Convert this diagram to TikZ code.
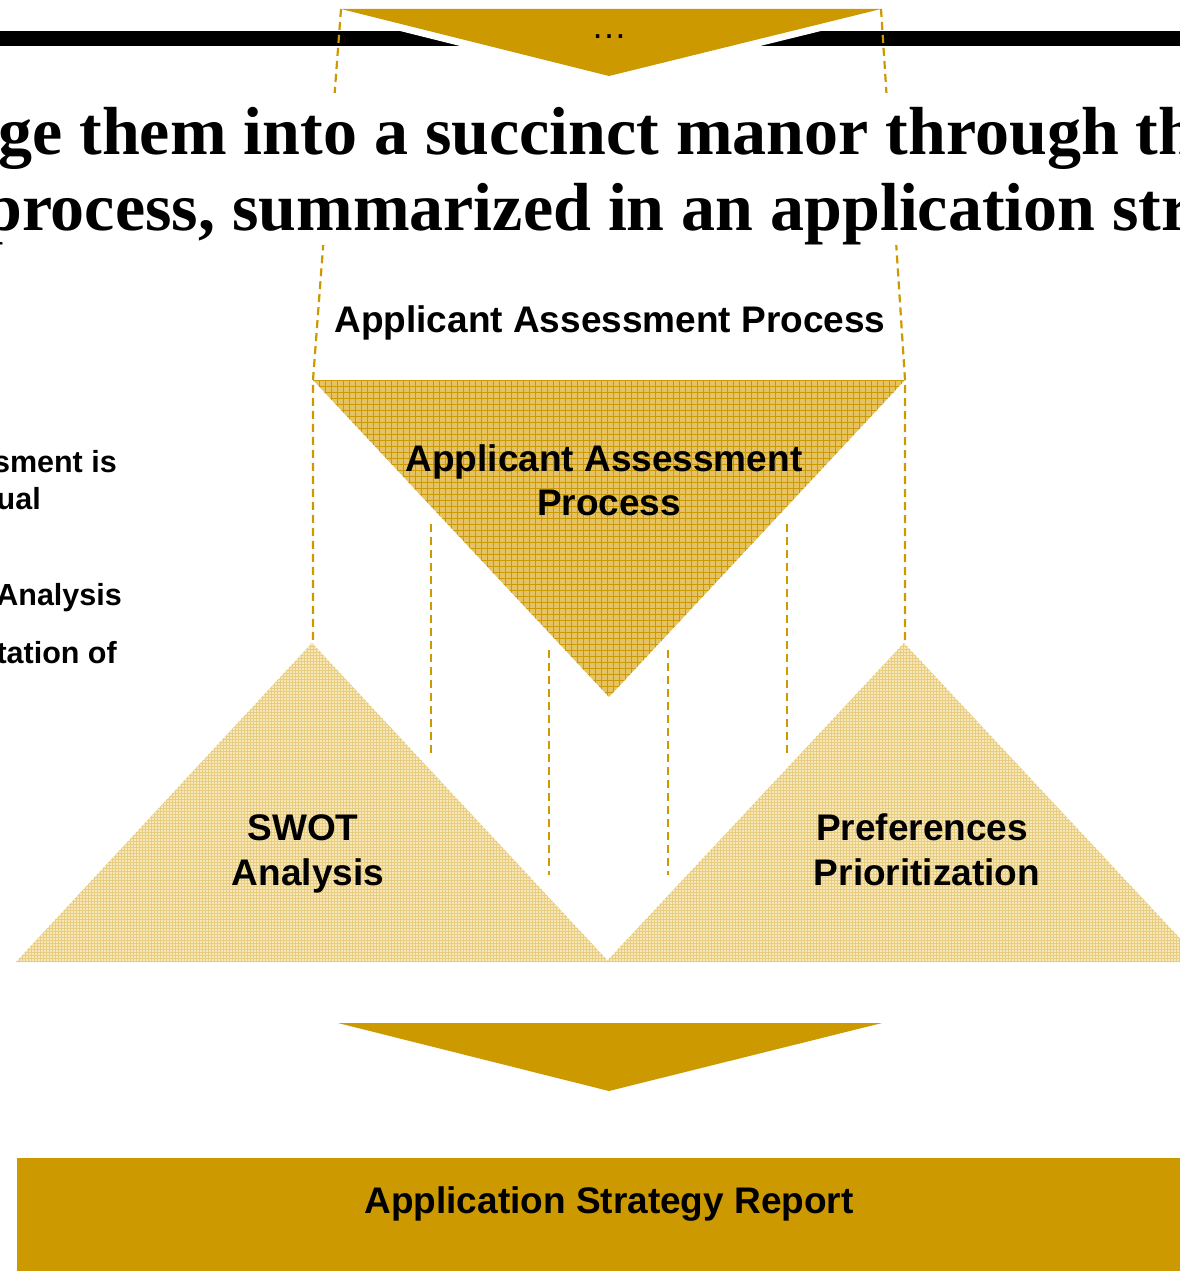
\documentclass[tikz,border=0pt]{standalone}
\usepackage{fontspec}
\setmainfont{Liberation Serif}
\newfontfamily\arialf{Liberation Sans}
\definecolor{gold}{RGB}{204,153,0}
\definecolor{midgold}{RGB}{228,194,104}
\definecolor{lightgold}{RGB}{246,232,186}
\definecolor{lightgrid}{RGB}{232,204,128}
\begin{document}
\begin{tikzpicture}[x=1pt,y=-1pt,
  lbl/.style={font=\arialf\bfseries\fontsize{37}{44}\selectfont, inner sep=0pt, anchor=base},
  side/.style={font=\arialf\bfseries\fontsize{30.5}{36}\selectfont, inner sep=0pt, anchor=base east},
  ttl/.style={font=\bfseries\fontsize{68}{76}\selectfont, inner sep=0pt, anchor=base west},
  guide/.style={draw=gold, line width=2.2pt, dash pattern=on 8pt off 5pt},
  goldshape/.style={fill=gold}]
\useasboundingbox (0,0) rectangle (1180,1271);
\fill[white] (0,0) rectangle (1180,1271);

% black bar and top arrow
\fill[black] (0,31) rectangle (1180,46.5);
\coordinate (tL) at (341,9);
\coordinate (tR) at (881,9);
\coordinate (tA) at (609,76);
\draw[white, line width=14pt, line join=miter] (tL) -- (tR) -- (tA) -- cycle;
\fill[goldshape] (tL) -- (tR) -- (tA) -- cycle;
\node[font=\arialf\fontsize{36}{40}\selectfont, inner sep=0pt, anchor=base] (dots) at (609,38.5) {…};

% light triangles
\coordinate (sL) at (16,962);
\coordinate (sA) at (312,643);
\coordinate (sR) at (609,962);
\coordinate (pL) at (606,962);
\coordinate (pA) at (904,643);
\coordinate (pR) at (1202,962);
\begin{scope}
  \clip (sL) -- (sA) -- (sR) -- cycle;
  \fill[lightgold] (16,640) rectangle (610,965);
  \foreach \x in {16,19,...,610} \draw[lightgrid, line width=0.8pt] (\x,640) -- (\x,965);
  \foreach \y in {640,643,...,965} \draw[lightgrid, line width=0.8pt] (16,\y) -- (610,\y);
\end{scope}
\begin{scope}
  \clip (pL) -- (pA) -- (pR) -- cycle;
  \fill[lightgold] (600,640) rectangle (1202,965);
  \foreach \x in {600,603,...,1202} \draw[lightgrid, line width=0.8pt] (\x,640) -- (\x,965);
  \foreach \y in {640,643,...,965} \draw[lightgrid, line width=0.8pt] (600,\y) -- (1202,\y);
\end{scope}

% inverted triangle
\coordinate (iL) at (313,380);
\coordinate (iR) at (905,380);
\coordinate (iA) at (609,697);
\begin{scope}
  \clip (iL) -- (iR) -- (iA) -- cycle;
  \fill[midgold] (313,380) rectangle (905,697);
  \foreach \x in {313,319,...,905} \draw[gold, line width=1pt] (\x,380) -- (\x,697);
  \foreach \y in {380,386,...,697} \draw[gold, line width=1pt] (313,\y) -- (905,\y);
\end{scope}

% dashed guides
\coordinate (gL0) at (341,9);
\coordinate (gL1) at (313,380);
\coordinate (gL2) at (313,640);
\coordinate (gR0) at (881,9);
\coordinate (gR1) at (905,380);
\coordinate (gR2) at (905,640);
\draw[guide] (gL0) -- (gL1) -- (gL2);
\draw[guide] (gR0) -- (gR1) -- (gR2);
\coordinate (d1a) at (431,524); \coordinate (d1b) at (431,755);
\coordinate (d2a) at (787,524); \coordinate (d2b) at (787,755);
\coordinate (d3a) at (549,650); \coordinate (d3b) at (549,875);
\coordinate (d4a) at (668,650); \coordinate (d4b) at (668,875);
\draw[guide] (d1a) -- (d1b);
\draw[guide] (d2a) -- (d2b);
\draw[guide] (d3a) -- (d3b);
\draw[guide] (d4a) -- (d4b);

% title
\node[fill=white, inner sep=0pt, minimum width=1180pt, minimum height=152pt, anchor=north west] (titlebg) at (0,93) {};
\node[ttl] (title1) at (-2,154) {ge them into a succinct manor through th};
\node[ttl] (title2) at (-16,230) {process, summarized in an application str};

% side text
\node[side] (s1) at (117,472) {sment is};
\node[side] (s2) at (41,509) {ual};
\node[side] (s3) at (122,605) {Analysis};
\node[side] (s4) at (117,663) {tation of};

% labels
\node[lbl] (aap) at (610,332) {Applicant Assessment Process};
\node[lbl] (inv1) at (604,471) {Applicant Assessment};
\node[lbl] (inv2) at (609,515) {Process};
\node[lbl] (swot1) at (303,840) {SWOT};
\node[lbl] (swot2) at (308,885) {Analysis};
\node[lbl] (pref1) at (922,840) {Preferences};
\node[lbl] (pref2) at (927,885) {Prioritization};

% bottom arrow and report
\coordinate (bL) at (338,1023);
\coordinate (bR) at (882,1023);
\coordinate (bA) at (609,1091);
\fill[goldshape] (bL) -- (bR) -- (bA) -- cycle;
\node[goldshape, inner sep=0pt, minimum width=1180pt, minimum height=125pt, anchor=north west] (report) at (17,1158) {};
\node[lbl] (reporttxt) at (609,1213) {Application Strategy Report};
\end{tikzpicture}
\end{document}
